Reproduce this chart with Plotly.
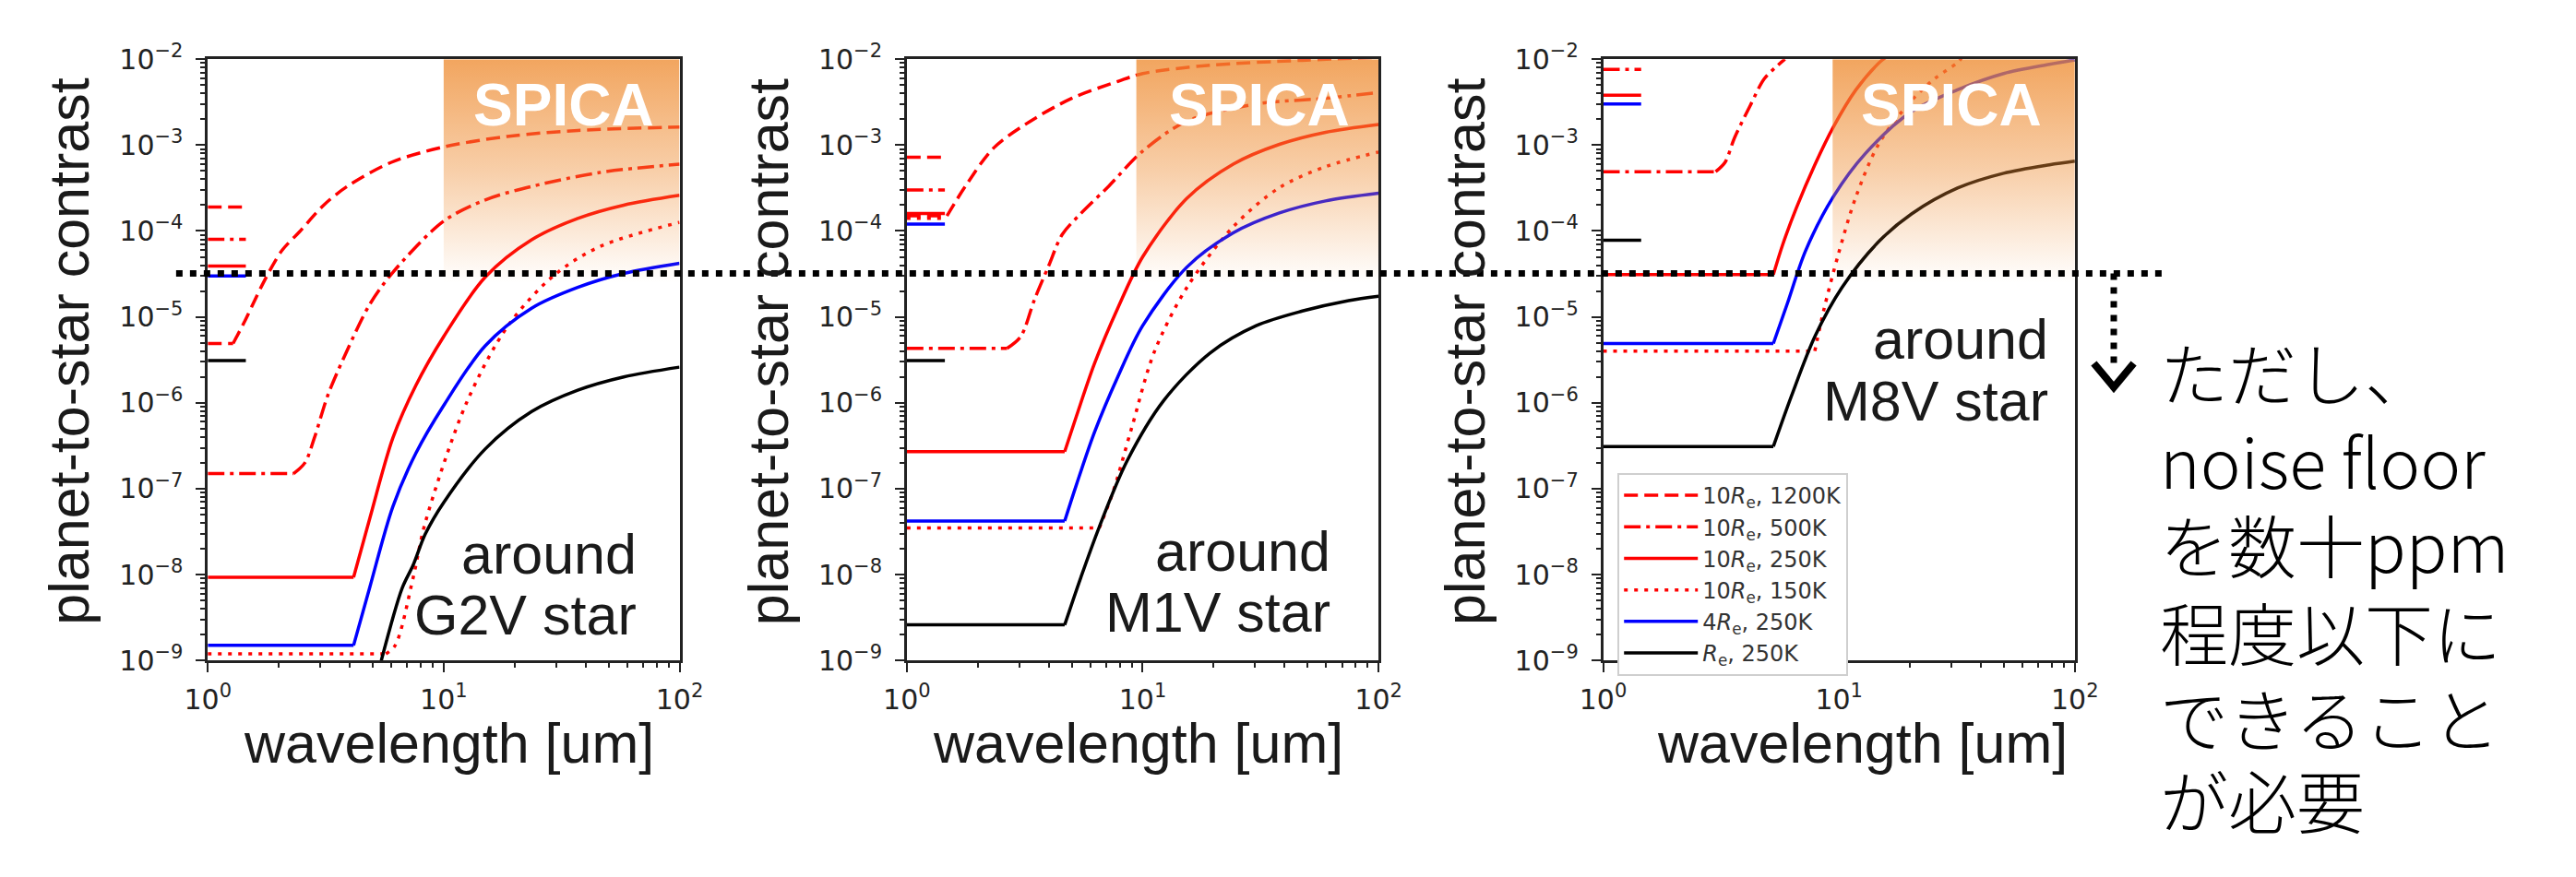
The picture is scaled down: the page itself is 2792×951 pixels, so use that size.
import plotly.graph_objects as go

W, H = 2792, 951

# ---------------- data ----------------
wavelength_ticks = [1, 10, 100]
wavelength_ticktext = ["10<sup>0</sup>", "10<sup>1</sup>", "10<sup>2</sup>"]
contrast_ticks = [1e-9, 1e-8, 1e-7, 1e-6, 1e-5, 1e-4, 1e-3, 1e-2]
contrast_ticktext = ["10<sup>\u22129</sup>", "10<sup>\u22128</sup>", "10<sup>\u22127</sup>",
                     "10<sup>\u22126</sup>", "10<sup>\u22125</sup>", "10<sup>\u22124</sup>",
                     "10<sup>\u22123</sup>", "10<sup>\u22122</sup>"]

series_names = ["10<i>R</i><sub>e</sub>, 1200K", "10<i>R</i><sub>e</sub>, 500K",
                "10<i>R</i><sub>e</sub>, 250K", "10<i>R</i><sub>e</sub>, 150K",
                "4<i>R</i><sub>e</sub>, 250K", "<i>R</i><sub>e</sub>, 250K"]

# --- around G2V star ---
g2v_1200K_x = [1.0, 1.28, 1.44, 1.72, 2.06, 2.45, 3.1, 3.9, 6.0, 10.0, 18.6, 37.0, 100.0]
g2v_1200K_y = [4.9e-6, 4.9e-6, 9.1e-6, 2.5e-5, 5.9e-5, 9.8e-5, 2.0e-4, 3.3e-4, 6.3e-4, 9.5e-4, 1.26e-3, 1.48e-3, 1.62e-3]
g2v_500K_x = [1.0, 2.31, 2.58, 2.83, 3.23, 3.87, 4.86, 6.09, 10.0, 15.0, 23.6, 46.0, 100.0]
g2v_500K_y = [1.5e-7, 1.5e-7, 2.0e-7, 3.9e-7, 1.23e-6, 3.9e-6, 1.4e-5, 3.3e-5, 1.3e-4, 2.3e-4, 3.3e-4, 4.8e-4, 6.0e-4]
g2v_250K_x = [1.0, 4.15, 4.86, 6.09, 7.63, 10.0, 15.0, 23.6, 37.0, 58.0, 100.0]
g2v_250K_y = [9.3e-9, 9.3e-9, 4.5e-8, 3.9e-7, 1.6e-6, 5.9e-6, 2.9e-5, 7.9e-5, 1.4e-4, 2.0e-4, 2.6e-4]
g2v_150K_x = [1.0, 5.69, 6.23, 7.43, 8.35, 12.5, 18.8, 29.6, 46.0, 100.0]
g2v_150K_y = [1.2e-9, 1.2e-9, 1.5e-9, 9.3e-9, 4.0e-8, 1.0e-6, 8.0e-6, 3.1e-5, 6.6e-5, 1.26e-4]
g2v_4Re_x = [1.0, 4.15, 4.86, 6.09, 7.63, 10.0, 15.0, 23.6, 37.0, 58.0, 100.0]
g2v_4Re_y = [1.5e-9, 1.5e-9, 7.1e-9, 6.2e-8, 2.6e-7, 9.3e-7, 4.6e-6, 1.26e-5, 2.2e-5, 3.2e-5, 4.2e-5]
g2v_Re_x = [5.44, 6.66, 7.43, 8.35, 10.0, 15.0, 23.6, 37.0, 58.0, 100.0]
g2v_Re_y = [1.0e-9, 6.9e-9, 1.3e-8, 2.95e-8, 6.9e-8, 2.9e-7, 7.9e-7, 1.4e-6, 2.0e-6, 2.6e-6]

# --- around M1V star ---
m1v_1200K_x = [1.0, 1.48, 1.77, 2.32, 3.18, 5.0, 7.84, 10.0, 19.3, 47.5, 100.0]
m1v_1200K_y = [1.5e-4, 1.5e-4, 3.3e-4, 9.1e-4, 1.74e-3, 3.5e-3, 5.5e-3, 6.8e-3, 8.5e-3, 9.7e-3, 1.05e-2]
m1v_500K_x = [1.0, 2.66, 3.04, 3.48, 3.99, 4.56, 5.47, 7.16, 10.0, 15.4, 30.3, 59.6, 100.0]
m1v_500K_y = [4.3e-6, 4.3e-6, 5.9e-6, 1.6e-5, 3.9e-5, 9.1e-5, 1.6e-4, 3.3e-4, 8.5e-4, 1.9e-3, 3.0e-3, 3.5e-3, 4.1e-3]
m1v_250K_x = [1.0, 4.67, 5.23, 6.26, 7.84, 10.0, 15.4, 24.2, 38.0, 59.6, 100.0]
m1v_250K_y = [2.7e-7, 2.7e-7, 6.9e-7, 2.9e-6, 1.26e-5, 5.0e-5, 2.4e-4, 6.0e-4, 1.02e-3, 1.41e-3, 1.74e-3]
m1v_150K_x = [1.0, 6.55, 7.5, 8.98, 11.2, 15.4, 24.2, 38.0, 59.6, 100.0]
m1v_150K_y = [3.5e-8, 3.5e-8, 9.3e-8, 5.1e-7, 3.9e-6, 2.2e-5, 1.12e-4, 3.2e-4, 5.6e-4, 8.3e-4]
m1v_4Re_x = [1.0, 4.67, 5.23, 6.26, 7.84, 10.0, 15.4, 24.2, 38.0, 59.6, 100.0]
m1v_4Re_y = [4.2e-8, 4.2e-8, 1.1e-7, 4.6e-7, 2.0e-6, 7.9e-6, 3.8e-5, 9.5e-5, 1.62e-4, 2.24e-4, 2.75e-4]
m1v_Re_x = [1.0, 4.67, 5.47, 6.55, 8.58, 12.3, 19.3, 30.3, 47.5, 74.6, 100.0]
m1v_Re_y = [2.6e-9, 2.6e-9, 9.3e-9, 3.6e-8, 2.1e-7, 1.07e-6, 3.8e-6, 7.9e-6, 1.17e-5, 1.55e-5, 1.74e-5]

# --- around M8V star ---
m8v_1200K_x = []
m8v_1200K_y = []
m8v_500K_x = [1.0, 3.0, 3.29, 3.6, 4.21, 4.82, 5.51, 5.9]
m8v_500K_y = [4.9e-4, 4.9e-4, 6.3e-4, 1.2e-3, 2.9e-3, 5.9e-3, 8.5e-3, 1.0e-2]
m8v_250K_x = [1.0, 5.27, 5.77, 6.6, 7.9, 9.46, 11.8, 14.8, 15.8]
m8v_250K_y = [3.1e-5, 3.1e-5, 6.9e-5, 1.86e-4, 5.9e-4, 1.62e-3, 4.4e-3, 9.1e-3, 1.05e-2]
m8v_150K_x = [1.0, 7.9, 8.64, 9.89, 11.8, 14.8, 20.3, 25.4, 31.8, 33.0]
m8v_150K_y = [4.0e-6, 4.0e-6, 1.23e-5, 5.1e-5, 2.5e-4, 1.05e-3, 3.3e-3, 5.9e-3, 9.1e-3, 1.02e-2]
m8v_4Re_x = [1.0, 5.27, 6.03, 7.22, 9.46, 12.9, 20.3, 31.8, 49.9, 78.0, 100.0]
m8v_4Re_y = [4.9e-6, 4.9e-6, 1.41e-5, 5.9e-5, 2.5e-4, 7.9e-4, 2.45e-3, 4.4e-3, 6.8e-3, 8.7e-3, 9.8e-3]
m8v_Re_x = [1.0, 5.27, 6.31, 7.9, 10.3, 14.8, 20.3, 31.8, 49.9, 78.0, 100.0]
m8v_Re_y = [3.1e-7, 3.1e-7, 1.23e-6, 5.9e-6, 2.2e-5, 7.6e-5, 1.58e-4, 3.16e-4, 4.7e-4, 5.9e-4, 6.5e-4]

# short reference bars near 1-1.45 um (same order as series_names)
short_bar_x = [1.0, 1.45]
g2v_short = [1.9e-4, 8.0e-5, 3.9e-5, None, 3.0e-5, 3.1e-6]
m1v_short = [7.2e-4, 3.0e-4, 1.6e-4, 1.4e-4, 1.2e-4, 3.1e-6]
m8v_short = [None, 7.6e-3, 3.8e-3, None, 3.0e-3, 7.8e-5]

noise_floor = 3.2e-5
spica_start_um = [10.0, 9.4, 9.4]
spica_end_um = 100.0
spica_low = 2.5e-5
spica_high = 1e-2
star_labels = ["G2V", "M1V", "M8V"]
note_lines = ["ただし、", "noise floor", "を数十ppm", "程度以下に", "できること", "が必要"]

# ---------------- styles / layout ----------------
series_colors = ["#ff0000", "#ff0000", "#ff0000", "#ff0000", "#0000ff", "#000000"]
series_dash = ["15px,7px", "18px,6px,4px,6px", "solid", "4px,7px", "solid", "solid"]
LW = 3.5

PANEL_LEFT = [203, 975, 1744]
PANEL_W = 521
PLOT_TOP, PLOT_BOTTOM = 45, 725
YDOM = [1 - PLOT_BOTTOM / H, 1 - PLOT_TOP / H]

curves = [
    [(g2v_1200K_x, g2v_1200K_y), (g2v_500K_x, g2v_500K_y), (g2v_250K_x, g2v_250K_y),
     (g2v_150K_x, g2v_150K_y), (g2v_4Re_x, g2v_4Re_y), (g2v_Re_x, g2v_Re_y)],
    [(m1v_1200K_x, m1v_1200K_y), (m1v_500K_x, m1v_500K_y), (m1v_250K_x, m1v_250K_y),
     (m1v_150K_x, m1v_150K_y), (m1v_4Re_x, m1v_4Re_y), (m1v_Re_x, m1v_Re_y)],
    [(m8v_1200K_x, m8v_1200K_y), (m8v_500K_x, m8v_500K_y), (m8v_250K_x, m8v_250K_y),
     (m8v_150K_x, m8v_150K_y), (m8v_4Re_x, m8v_4Re_y), (m8v_Re_x, m8v_Re_y)],
]
shorts = [g2v_short, m1v_short, m8v_short]

fig = go.Figure()

for p in range(3):
    xa = "x" if p == 0 else f"x{p+1}"
    ya = "y" if p == 0 else f"y{p+1}"
    for s in range(6):
        xs, ys = curves[p][s]
        if not xs:
            continue
        style = dict(color=series_colors[s], width=LW, dash=series_dash[s])
        # flat floor part drawn straight, rising part drawn smooth
        if len(ys) > 2 and ys[0] == ys[1]:
            fig.add_trace(go.Scatter(
                x=xs[:2], y=ys[:2], mode="lines", xaxis=xa, yaxis=ya,
                showlegend=False, legendgroup=str(s), line=style, hoverinfo="skip"))
            rx, ry = xs[1:], ys[1:]
        else:
            rx, ry = xs, ys
        fig.add_trace(go.Scatter(
            x=rx, y=ry, mode="lines", xaxis=xa, yaxis=ya,
            name=series_names[s], showlegend=(p == 0), legendgroup=str(s),
            legendrank=100 + s,
            line=dict(style, shape="spline", smoothing=0.9), hoverinfo="skip"))
    for s, lvl in enumerate(shorts[p]):
        if lvl is None:
            continue
        fig.add_trace(go.Scatter(
            x=short_bar_x, y=[lvl, lvl], mode="lines", xaxis=xa, yaxis=ya,
            showlegend=False, legendgroup=str(s),
            line=dict(color=series_colors[s], width=LW, dash=series_dash[s]),
            hoverinfo="skip"))
    # SPICA band (semi-transparent orange gradient over the curves)
    x0 = spica_start_um[p]
    fig.add_trace(go.Scatter(
        x=[x0, spica_end_um, spica_end_um, x0, x0],
        y=[spica_low, spica_low, spica_high, spica_high, spica_low],
        mode="lines", fill="toself", xaxis=xa, yaxis=ya, showlegend=False,
        line=dict(width=0, color="rgba(0,0,0,0)"),
        fillgradient=dict(type="vertical", colorscale=[
            [0.0, "rgba(238,140,50,0.0)"],
            [0.12, "rgba(238,140,50,0.10)"],
            [0.5, "rgba(238,140,50,0.42)"],
            [1.0, "rgba(238,140,50,0.78)"]]),
        hoverinfo="skip"))

# overlay axes spanning the whole figure for the noise-floor marker
def py_to_contrast(py):
    return 10 ** (-2 - (py - PLOT_TOP) / (PLOT_BOTTOM - PLOT_TOP) * 7)

line_left_px, line_right_px = 168, 2368
arrow_x_px, stem_end_px, tip_px, arm_px, arm_half = 2308, 395, 416, 389, 22

fig.add_trace(go.Scatter(
    x=[line_left_px, line_right_px], y=[noise_floor, noise_floor], mode="lines",
    xaxis="x4", yaxis="y4", showlegend=False, hoverinfo="skip",
    line=dict(color="black", width=7, dash="7px,8px")))
fig.add_trace(go.Scatter(
    x=[arrow_x_px, arrow_x_px], y=[noise_floor, py_to_contrast(stem_end_px)], mode="lines",
    xaxis="x4", yaxis="y4", showlegend=False, hoverinfo="skip",
    line=dict(color="black", width=7, dash="7px,8px")))
fig.add_trace(go.Scatter(
    x=[arrow_x_px - arm_half, arrow_x_px, arrow_x_px + arm_half],
    y=[py_to_contrast(arm_px), py_to_contrast(tip_px), py_to_contrast(arm_px)],
    mode="lines", xaxis="x4", yaxis="y4", showlegend=False, hoverinfo="skip",
    line=dict(color="black", width=8)))

# axes
minor_x = [m * 10 ** k for k in (0, 1) for m in range(2, 10)]
minor_y = [m * 10.0 ** k for k in range(-9, -2) for m in range(2, 10)]
tickfont = dict(family="DejaVu Sans", size=30, color="#222")
axis_common = dict(showline=True, linecolor="#222", linewidth=2.5, mirror=True,
                   ticks="outside", ticklen=10, tickwidth=2, tickcolor="#222",
                   showgrid=False, zeroline=False, tickfont=tickfont)
layout_axes = {}
for p in range(3):
    sfx = "" if p == 0 else str(p + 1)
    layout_axes[f"xaxis{sfx}"] = dict(
        axis_common, type="log", range=[0, 2],
        domain=[PANEL_LEFT[p] / W, (PANEL_LEFT[p] + PANEL_W) / W],
        anchor=f"y{sfx}", tickvals=wavelength_ticks, ticktext=wavelength_ticktext,
        ticklabelstandoff=4,
        minor=dict(tickvals=minor_x, ticks="outside", ticklen=5, tickwidth=1.5,
                   tickcolor="#222", showgrid=False))
    layout_axes[f"yaxis{sfx}"] = dict(
        axis_common, type="log", range=[-9, -2], domain=YDOM,
        anchor=f"x{sfx}", tickvals=contrast_ticks, ticktext=contrast_ticktext,
        ticklabelstandoff=8,
        minor=dict(tickvals=minor_y, ticks="outside", ticklen=5, tickwidth=1.5,
                   tickcolor="#222", showgrid=False))
layout_axes["xaxis4"] = dict(domain=[0, 1], range=[0, W], visible=False, anchor="y4",
                             fixedrange=True)
layout_axes["yaxis4"] = dict(domain=YDOM, type="log", range=[-9, -2], visible=False,
                             anchor="x4", fixedrange=True)

annotations = []
title_font = dict(family="Liberation Sans", size=61, color="#1a1a1a")
x_title_centers = [469, 1230, 2030]
star_right_px = [679, 1445, 2238]
around_base = [628, 625, 385]
star_base = [697, 694, 455]
spica_cx = [0.754, 0.747, 0.739]
for p in range(3):
    sfx = "" if p == 0 else str(p + 1)
    annotations.append(dict(text="planet-to-star contrast", textangle=-90,
                            x=(PANEL_LEFT[p] - 153) / W, y=1 - 376 / H,
                            xref="paper", yref="paper", xanchor="center", yanchor="middle",
                            showarrow=False, font=title_font))
    annotations.append(dict(text="wavelength [um]", x=x_title_centers[p] / W,
                            y=1 - 856 / H, xref="paper", yref="paper",
                            xanchor="center", yanchor="bottom", showarrow=False,
                            font=title_font))
    annotations.append(dict(text="around", x=star_right_px[p] / W,
                            y=1 - (around_base[p] + 14) / H, xref="paper", yref="paper",
                            xanchor="right", yanchor="bottom", showarrow=False,
                            font=title_font))
    annotations.append(dict(text=f"{star_labels[p]} star", x=star_right_px[p] / W,
                            y=1 - (star_base[p] + 14) / H, xref="paper", yref="paper",
                            xanchor="right", yanchor="bottom", showarrow=False,
                            font=title_font))
    annotations.append(dict(text="<b>SPICA</b>", x=spica_cx[p], y=0.9235,
                            xref=f"x{sfx} domain", yref=f"y{sfx} domain",
                            xanchor="center", yanchor="middle", showarrow=False,
                            font=dict(family="Liberation Sans", size=64, color="white")))

note_centers_px = [397, 497, 592, 691, 788, 881]
for txt, cy in zip(note_lines, note_centers_px):
    annotations.append(dict(
        text=txt, x=2358 / W, y=1 - cy / H, xref="paper", yref="paper",
        xanchor="left", yanchor="middle", align="left", showarrow=False, borderpad=0,
        font=dict(family="Noto Sans CJK JP", size=74, color="black", weight=300)))

fig.update_layout(
    width=W, height=H, margin=dict(l=0, r=0, t=0, b=0),
    paper_bgcolor="white", plot_bgcolor="rgba(0,0,0,0)",
    showlegend=True,
    legend=dict(x=1760 / W, y=1 - 513 / H, xanchor="left", yanchor="top",
                bgcolor="white", bordercolor="#cfcfcf", borderwidth=2,
                font=dict(family="DejaVu Sans", size=24, color="#333"),
                itemwidth=80, tracegroupgap=0),
    annotations=annotations,
    **layout_axes,
)

fig.write_html("out.html")
